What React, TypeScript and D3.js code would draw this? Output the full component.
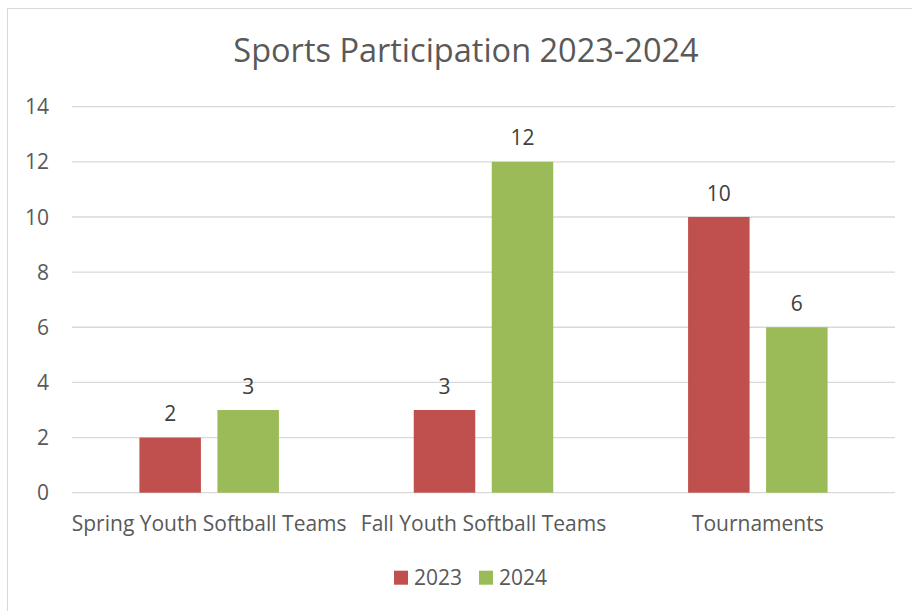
import { useEffect, useRef } from "react";
import * as d3 from "d3";

const categories = [
  "Spring Youth Softball Teams",
  "Fall Youth Softball Teams",
  "Tournaments",
];
const seriesNames = ["2023", "2024"];
const values2023 = [2, 3, 10];
const values2024 = [3, 12, 6];
const yTicks = [0, 2, 4, 6, 8, 10, 12, 14];
const colors = ["#C0504D", "#9BBB59"];

const FONT = "'Open Sans', sans-serif";
const TEXT = "#595959";
const FS = 21;

const App = () => {
  const svgRef = useRef(null);

  useEffect(() => {
    if (!svgRef.current) return;
    const svg = d3.select(svgRef.current);
    svg.selectAll("*").remove();

    const W = 912;
    const H = 611;
    const plot = { left: 72, right: 895, top: 106.7, bottom: 492.7 };

    // chart frame (cropped on right/bottom)
    svg
      .append("rect")
      .attr("x", 7.5)
      .attr("y", 8.5)
      .attr("width", W)
      .attr("height", H)
      .attr("fill", "#fff")
      .attr("stroke", "#D9D9D9");

    const x = d3
      .scaleBand()
      .domain(categories)
      .range([plot.left, plot.right])
      .padding(0);

    const inner = d3
      .scaleBand()
      .domain(seriesNames)
      .range([-69.75, 69.75])
      .paddingInner(0.2115)
      .paddingOuter(0);

    const y = d3.scaleLinear().domain([0, 14]).range([plot.bottom, plot.top]);

    // gridlines
    svg
      .append("g")
      .selectAll("line")
      .data(yTicks)
      .join("line")
      .attr("x1", plot.left)
      .attr("x2", plot.right)
      .attr("y1", (d) => y(d))
      .attr("y2", (d) => y(d))
      .attr("stroke", "#D9D9D9")
      .attr("stroke-width", 1.3);

    // y labels
    svg
      .append("g")
      .selectAll("text")
      .data(yTicks)
      .join("text")
      .attr("x", 49)
      .attr("y", (d) => y(d))
      .attr("dy", "0.36em")
      .attr("text-anchor", "end")
      .attr("font-family", FONT)
      .attr("font-size", FS)
      .attr("fill", TEXT)
      .text((d) => d);

    const series = [values2023, values2024];

    series.forEach((vals, si) => {
      const g = svg.append("g");
      g.selectAll("rect")
        .data(vals)
        .join("rect")
        .attr(
          "x",
          (_, i) =>
            (x(categories[i]) as number) +
            x.bandwidth() / 2 +
            (inner(seriesNames[si]) as number),
        )
        .attr("y", (d) => y(d))
        .attr("width", inner.bandwidth())
        .attr("height", (d) => y(0) - y(d))
        .attr("fill", colors[si]);

      // value labels
      g.selectAll("text")
        .data(vals)
        .join("text")
        .attr(
          "x",
          (_, i) =>
            (x(categories[i]) as number) +
            x.bandwidth() / 2 +
            (inner(seriesNames[si]) as number) +
            inner.bandwidth() / 2,
        )
        .attr("y", (d) => y(d) - 24)
        .attr("dy", "0.36em")
        .attr("text-anchor", "middle")
        .attr("font-family", FONT)
        .attr("font-size", FS)
        .attr("fill", "#404040")
        .text((d) => d);
    });

    // category labels
    svg
      .append("g")
      .selectAll("text")
      .data(categories)
      .join("text")
      .attr("x", (d) => (x(d) as number) + x.bandwidth() / 2)
      .attr("y", 523.5)
      .attr("dy", "0.36em")
      .attr("text-anchor", "middle")
      .attr("font-family", FONT)
      .attr("font-size", FS)
      .attr("fill", TEXT)
      .text((d) => d);

    // title
    svg
      .append("text")
      .attr("x", 466)
      .attr("y", 50)
      .attr("dy", "0.36em")
      .attr("text-anchor", "middle")
      .attr("font-family", FONT)
      .attr("font-size", 32.5)
      .attr("fill", TEXT)
      .text("Sports Participation 2023-2024");

    // legend
    const legend = svg.append("g");
    const legendX = [394, 479];
    seriesNames.forEach((name, i) => {
      legend
        .append("rect")
        .attr("x", legendX[i])
        .attr("y", 570.7)
        .attr("width", 14)
        .attr("height", 14)
        .attr("fill", colors[i]);
      legend
        .append("text")
        .attr("x", legendX[i] + 20)
        .attr("y", 577.5)
        .attr("dy", "0.36em")
        .attr("font-family", FONT)
        .attr("font-size", FS)
        .attr("fill", TEXT)
        .text(name);
    });
  }, []);

  return (
    <svg
      ref={svgRef}
      width={912}
      height={611}
      style={{ position: "absolute", left: 0, top: 0, display: "block" }}
    />
  );
};

export default App;
